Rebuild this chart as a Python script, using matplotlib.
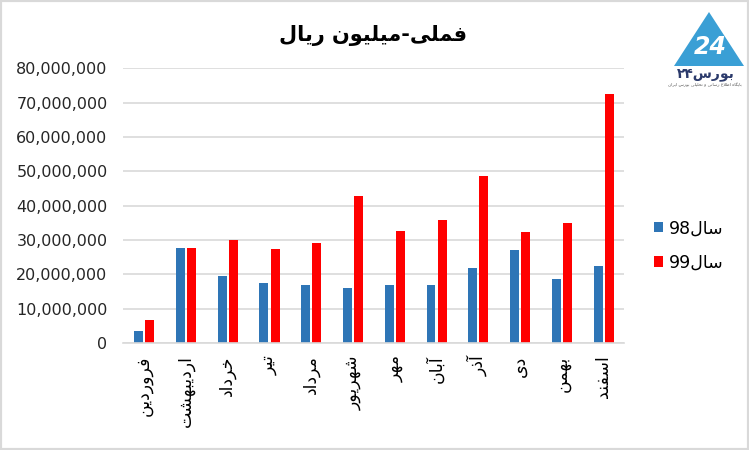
import numpy as np
import matplotlib
matplotlib.use("Agg")
import matplotlib.pyplot as plt
from matplotlib.patches import Rectangle, Polygon
from matplotlib.ticker import FuncFormatter

# ---------------------------------------------------------------------
# data
# ---------------------------------------------------------------------
months = ['فروردین', 'اردیبهشت', 'خرداد', 'تیر', 'مرداد', 'شهریور',
          'مهر', 'آبان', 'آذر', 'دی', 'بهمن', 'اسفند']
sales_98 = [3.4, 27.8, 19.6, 17.6, 17.0, 15.9, 17.0, 16.8, 21.7, 27.2, 18.5, 22.3]
sales_99 = [6.7, 27.8, 29.9, 27.4, 29.0, 42.9, 32.7, 35.9, 48.7, 32.2, 34.8, 72.4]
sales_98 = [v * 1e6 for v in sales_98]
sales_99 = [v * 1e6 for v in sales_99]
title_text = 'فملی-میلیون ریال'
series_names = ['سال', 'سال']
series_years = ['98', '99']

# ---------------------------------------------------------------------
# minimal arabic/persian shaping (matplotlib has no complex text layout)
# forms: isolated, final, initial, medial
# ---------------------------------------------------------------------
FORMS = {
    'ا': ('\uFE8D', '\uFE8E', None, None),
    'آ': ('\uFE81', '\uFE82', None, None),
    'د': ('\uFEA9', '\uFEAA', None, None),
    'ذ': ('\uFEAB', '\uFEAC', None, None),
    'ر': ('\uFEAD', '\uFEAE', None, None),
    'و': ('\uFEED', '\uFEEE', None, None),
    'ب': ('\uFE8F', '\uFE90', '\uFE91', '\uFE92'),
    'ت': ('\uFE95', '\uFE96', '\uFE97', '\uFE98'),
    'ح': ('\uFEA1', '\uFEA2', '\uFEA3', '\uFEA4'),
    'خ': ('\uFEA5', '\uFEA6', '\uFEA7', '\uFEA8'),
    'س': ('\uFEB1', '\uFEB2', '\uFEB3', '\uFEB4'),
    'ش': ('\uFEB5', '\uFEB6', '\uFEB7', '\uFEB8'),
    'ط': ('\uFEC1', '\uFEC2', '\uFEC3', '\uFEC4'),
    'ع': ('\uFEC9', '\uFECA', '\uFECB', '\uFECC'),
    'ف': ('\uFED1', '\uFED2', '\uFED3', '\uFED4'),
    'ل': ('\uFEDD', '\uFEDE', '\uFEDF', '\uFEE0'),
    'م': ('\uFEE1', '\uFEE2', '\uFEE3', '\uFEE4'),
    'ن': ('\uFEE5', '\uFEE6', '\uFEE7', '\uFEE8'),
    'ه': ('\uFEE9', '\uFEEA', '\uFEEB', '\uFEEC'),
    'ی': ('\uFBFC', '\uFBFD', '\uFBFE', '\uFBFF'),
    'پ': ('\uFB56', '\uFB57', '\uFB58', '\uFB59'),
    'گ': ('\uFB92', '\uFB93', '\uFB94', '\uFB95'),
}
LAM_ALEF = {'ا': ('\uFEFB', '\uFEFC'), 'آ': ('\uFEF5', '\uFEF6')}


def dual(c):
    return c in FORMS and FORMS[c][2] is not None


def rtl(s):
    """shape and return in visual (left to right) order"""
    out = []
    i = 0
    while i < len(s):
        c = s[i]
        prev = s[i - 1] if i > 0 else ''
        nxt = s[i + 1] if i + 1 < len(s) else ''
        if c not in FORMS:
            out.append(c)
            i += 1
            continue
        jp = dual(prev)
        if c == 'ل' and nxt in LAM_ALEF:
            out.append(LAM_ALEF[nxt][1 if jp else 0])
            i += 2
            continue
        jn = dual(c) and nxt in FORMS
        iso, fin, ini, med = FORMS[c]
        if jp and jn:
            out.append(med)
        elif jp:
            out.append(fin)
        elif jn:
            out.append(ini)
        else:
            out.append(iso)
        i += 1
    return ''.join(out)[::-1]


plt.rcParams['font.family'] = ['DejaVu Sans']

fig = plt.figure(figsize=(7.49, 4.5), dpi=100, facecolor='white')
ax = fig.add_axes([0.164, 0.238, 0.669, 0.61])

x = np.arange(len(months))
w = 0.215
c98 = '#2E75B6'
c99 = '#FF0000'
ax.bar(x - 0.12, sales_98, width=w, color=c98, zorder=2,
       label=series_years[0] + rtl(series_names[0]))
ax.bar(x + 0.145, sales_99, width=w, color=c99, zorder=2,
       label=series_years[1] + rtl(series_names[1]))

ax.set_xlim(-0.5, len(months) - 0.5)
ax.set_ylim(0, 80e6)
ax.set_yticks(np.arange(0, 80e6 + 1, 10e6))
ax.yaxis.set_major_formatter(FuncFormatter(lambda v, p: f'{int(v):,}'))
ax.grid(axis='y', color='#d9d9d9', linewidth=1.2, zorder=0)
ax.set_axisbelow(True)
for s in ['top', 'right', 'left']:
    ax.spines[s].set_visible(False)
ax.spines['bottom'].set_color('#d9d9d9')
ax.spines['bottom'].set_linewidth(1.2)
ax.tick_params(axis='y', length=0, pad=11, labelsize=11.5, labelcolor='#262626')
ax.tick_params(axis='x', length=0, pad=9)
ax.set_xticks(x)
ax.set_xticklabels([rtl(m) for m in months], rotation=90, fontsize=12.5,
                   color='#000000', va='top', ha='center')

ax.set_title(rtl(title_text), fontsize=15, fontweight='bold', pad=20)

leg = ax.legend(loc='center left', bbox_to_anchor=(0.873, 0.4544),
                bbox_transform=fig.transFigure, frameon=False, fontsize=12.5,
                handlelength=0.55, handleheight=0.55, handletextpad=0.3,
                labelspacing=0.95, borderpad=0, borderaxespad=0)

# logo (top right)
W, H = 749.0, 450.0
def fp(px, py):
    return (px / W, 1 - py / H)

tri = Polygon([fp(709, 12), fp(674, 66), fp(744, 66)], closed=True,
              transform=fig.transFigure, facecolor='#3a9fd5', edgecolor='none')
fig.add_artist(tri)
fig.text(*fp(710, 47), '24', color='white', fontsize=17, fontweight='bold',
         fontstyle='italic', ha='center', va='center')
fig.text(*fp(706, 74), '۲۴' + rtl('بورس'), color='#2b3a6b', fontsize=10,
         fontweight='bold', ha='center', va='center')
fig.text(*fp(705, 85), rtl('پایگاه اطلاع رسانی و تحلیلی بورس ایران'),
         color='#555555', fontsize=3.2, ha='center', va='center')

# outer frame
fig.add_artist(Rectangle((0, 0), 1, 1, transform=fig.transFigure, fill=False,
                         edgecolor='#d9d9d9', linewidth=3))

fig.savefig('out.png', dpi=100)
